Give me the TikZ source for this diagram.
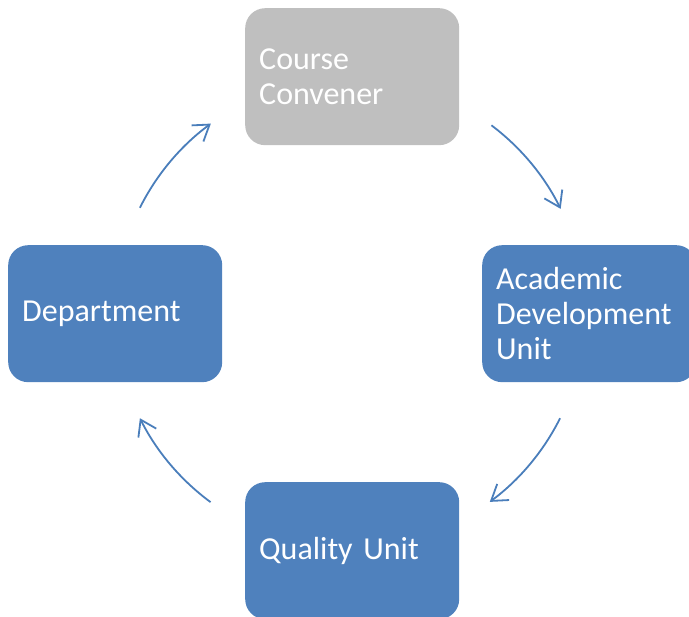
\documentclass[tikz,border=0pt]{standalone}
\usepackage{fontspec}
\setmainfont{Carlito}
\usetikzlibrary{arrows.meta,calc}
\definecolor{boxblue}{HTML}{4F81BD}
\definecolor{boxgray}{HTML}{BFBFBF}
\definecolor{arrblue}{HTML}{4A7EBB}
\begin{document}
\begin{tikzpicture}[x=1pt,y=1pt,
  box/.style={draw=none, rounded corners=20pt, minimum width=214pt, minimum height=137pt,
    text width=186pt, inner xsep=14pt, inner ysep=0pt, align=left, text=white,
    font=\fontsize{32}{35}\selectfont, anchor=north west},
  cyc/.style={draw=arrblue, line width=1.8pt, -{Straight Barb[length=15pt,width=20pt,line width=1.8pt]}}]
\useasboundingbox (0,0) rectangle (689,617);
\clip (0,0) rectangle (689,617);
\node[box, fill=boxgray] (cc) at (245,609) {Course\\Convener};
\node[box, fill=boxblue] (adu) at (482,372) {Academic\\Development\\Unit};
\node[box, fill=boxblue] (dep) at (8,372) {Department};
\node[box, fill=boxblue] (qu) at (245,135) {Quality Unit};
\coordinate (o) at (350,304);
\coordinate (s1) at ($(o)+(153.4:235)$);
\coordinate (s2) at ($(o)+(53:235)$);
\coordinate (s3) at ($(o)+(-26.6:235)$);
\coordinate (s4) at ($(o)+(-126.4:235)$);
\draw[cyc] (s1) arc[start angle=153.4, end angle=126.3, radius=235];
\draw[cyc] (s2) arc[start angle=53, end angle=26.3, radius=235];
\draw[cyc] (s3) arc[start angle=-26.6, end angle=-53.5, radius=235];
\draw[cyc] (s4) arc[start angle=-126.4, end angle=-153.4, radius=235];
\end{tikzpicture}
\end{document}
